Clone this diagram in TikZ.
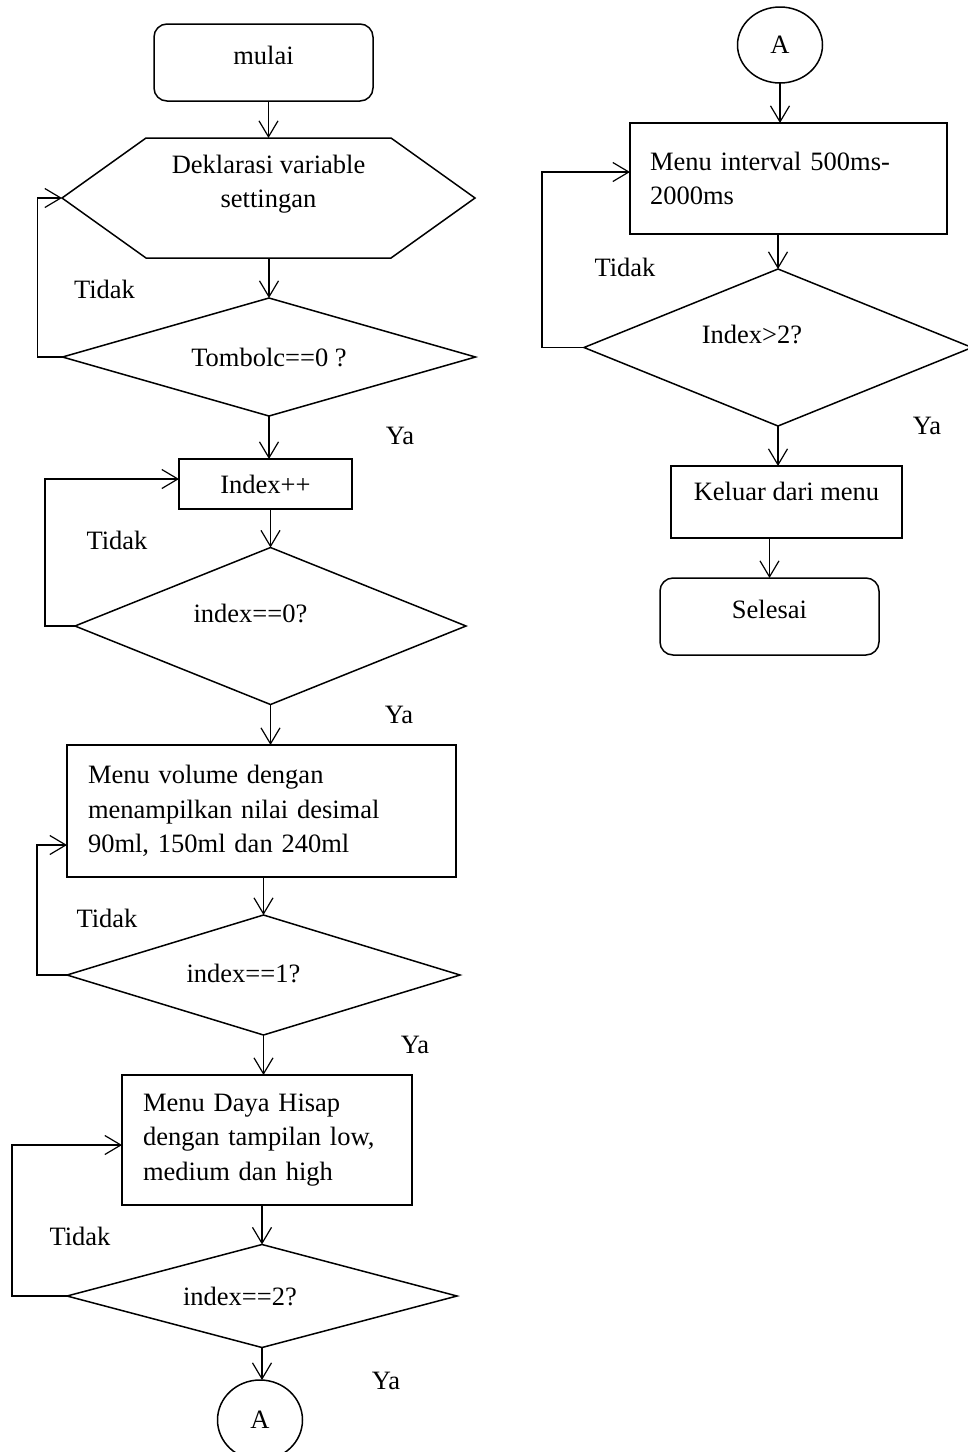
\documentclass[tikz,border=0pt]{standalone}
\usepackage{fontspec}
\setmainfont{Liberation Serif}
\usepackage{tikz}
\usetikzlibrary{shapes.geometric}
\usetikzlibrary{arrows.meta}

\begin{document}
\begin{tikzpicture}[x=1pt, y=-1pt, font=\fontsize{26.5}{34.5}\selectfont,
    arr/.style = {-{Straight Barb[length=16pt,width=19pt]}, line width=1.2pt},
    term/.style = {draw, line width=1.5pt, rounded corners=13pt, minimum width=219pt, minimum height=77pt, outer sep=0pt, text depth=15pt},
    proc/.style = {draw, line width=1.5pt, inner sep=0pt, outer sep=0pt},
    dec/.style = {draw, diamond, line width=1.5pt, inner sep=0pt, outer sep=0pt},
    conn/.style = {draw, ellipse, line width=1.5pt, minimum width=85pt, minimum height=76pt, inner sep=0pt, outer sep=0pt},
    lbl/.style = {inner sep=0pt}]
    \useasboundingbox (0,0) rectangle (968,1452);
    \node[term] (1) at (263.5,62.5) {mulai};
    \node[minimum width=413pt, minimum height=120pt, inner sep=0pt, outer sep=0pt, label={[align=center, yshift=14pt]center:{Deklarasi variable\\settingan}}] (2) at (268.5,198) {};
    \draw[line width=1.5pt] (2.west) -- ([xshift=84pt]2.north west) -- ([xshift=-84pt]2.north east) -- (2.east) -- ([xshift=-84pt]2.south east) -- ([xshift=84pt]2.south west) -- cycle;
    \node[dec, minimum width=413pt, minimum height=118pt, label={center:{Tombolc==0 ?}}] (3) at (269,357) {};
    \node[proc, minimum width=173pt, minimum height=50pt] (4) at (265.5,484) {Index++};
    \node[dec, minimum width=391pt, minimum height=157pt, label={[xshift=-20pt, yshift=13pt]center:{index==0?}}] (5) at (270.5,626) {};
    \node[proc, minimum width=389pt, minimum height=132pt, inner xsep=21pt, text width=347pt, align=left] (6) at (261.5,811) {Menu volume dengan\\menampilkan nilai desimal\\90ml, 150ml dan 240ml};
    \node[dec, minimum width=393pt, minimum height=120pt, label={[xshift=-20pt, yshift=2pt]center:{index==1?}}] (7) at (263.5,975) {};
    \node[proc, minimum width=290pt, minimum height=130pt, inner xsep=21pt, text width=248pt, align=left] (8) at (267,1140) {Menu Daya Hisap\\dengan tampilan low,\\medium dan high};
    \node[dec, minimum width=390pt, minimum height=103pt, label={[xshift=-22pt]center:{index==2?}}] (9) at (262,1296) {};
    \node[conn, minimum height=80pt] (10) at (260,1420) {A};
    \node[conn] (11) at (780,45) {A};
    \node[proc, minimum width=317pt, minimum height=111pt, inner xsep=20pt, text width=277pt, align=left] (12) at (788.5,178.5) {Menu interval 500ms-\\2000ms};
    \node[dec, minimum width=388pt, minimum height=157pt, label={[xshift=-26pt, yshift=13pt]center:{Index>2?}}] (13) at (778,347.5) {};
    \node[proc, minimum width=231pt, minimum height=72pt, text depth=22pt] (14) at (786.5,502) {Keluar dari menu};
    \node[term] (15) at (769.5,616.5) {Selesai};
    \node[lbl] (t1) at (104.5,289) {Tidak};
    \node[lbl] (y1) at (400,436) {Ya};
    \node[lbl] (t2) at (117,540) {Tidak};
    \node[lbl] (y2) at (399,715) {Ya};
    \node[lbl] (t3) at (107,918) {Tidak};
    \node[lbl] (y3) at (415,1045) {Ya};
    \node[lbl] (t4) at (80,1236) {Tidak};
    \node[lbl] (y4) at (386,1381) {Ya};
    \node[lbl] (t5) at (625,267) {Tidak};
    \node[lbl] (y5) at (927,426) {Ya};
    \draw[arr] (2.north |- 1.south) -- (2.north);
    \draw[arr] (3.north |- 2.south) -- (3.north);
    \draw[arr] (3.south) -- (3.south |- 4.north);
    \draw[arr] (5.north |- 4.south) -- (5.north);
    \draw[arr] (5.south) -- (5.south |- 6.north);
    \draw[arr] (7.north |- 6.south) -- (7.north);
    \draw[arr] (7.south) -- (7.south |- 8.north);
    \draw[arr] (9.north |- 8.south) -- (9.north);
    \draw[arr] (9.south) -- (9.south |- 10.north);
    \draw[arr] (11.south) -- (11.south |- 12.north);
    \draw[arr] (13.north |- 12.south) -- (13.north);
    \draw[arr] (13.south) -- (13.south |- 14.north);
    \draw[arr] (15.north |- 14.south) -- (15.north);
    \draw[arr] (3.west) -- ++(-25,0) |- (2.west);
    \draw[arr] (5.west) -- ++(-30,0) |- ([yshift=5pt]4.west);
    \draw[arr] (7.west) -- ++(-30,0) |- ([yshift=-34pt]6.west);
    \draw[arr] (9.west) -- ++(-55,0) |- ([yshift=-5pt]8.west);
    \draw[arr] (13.west) -- ++(-42,0) |- ([yshift=6.5pt]12.west);
\end{tikzpicture}
\end{document}
